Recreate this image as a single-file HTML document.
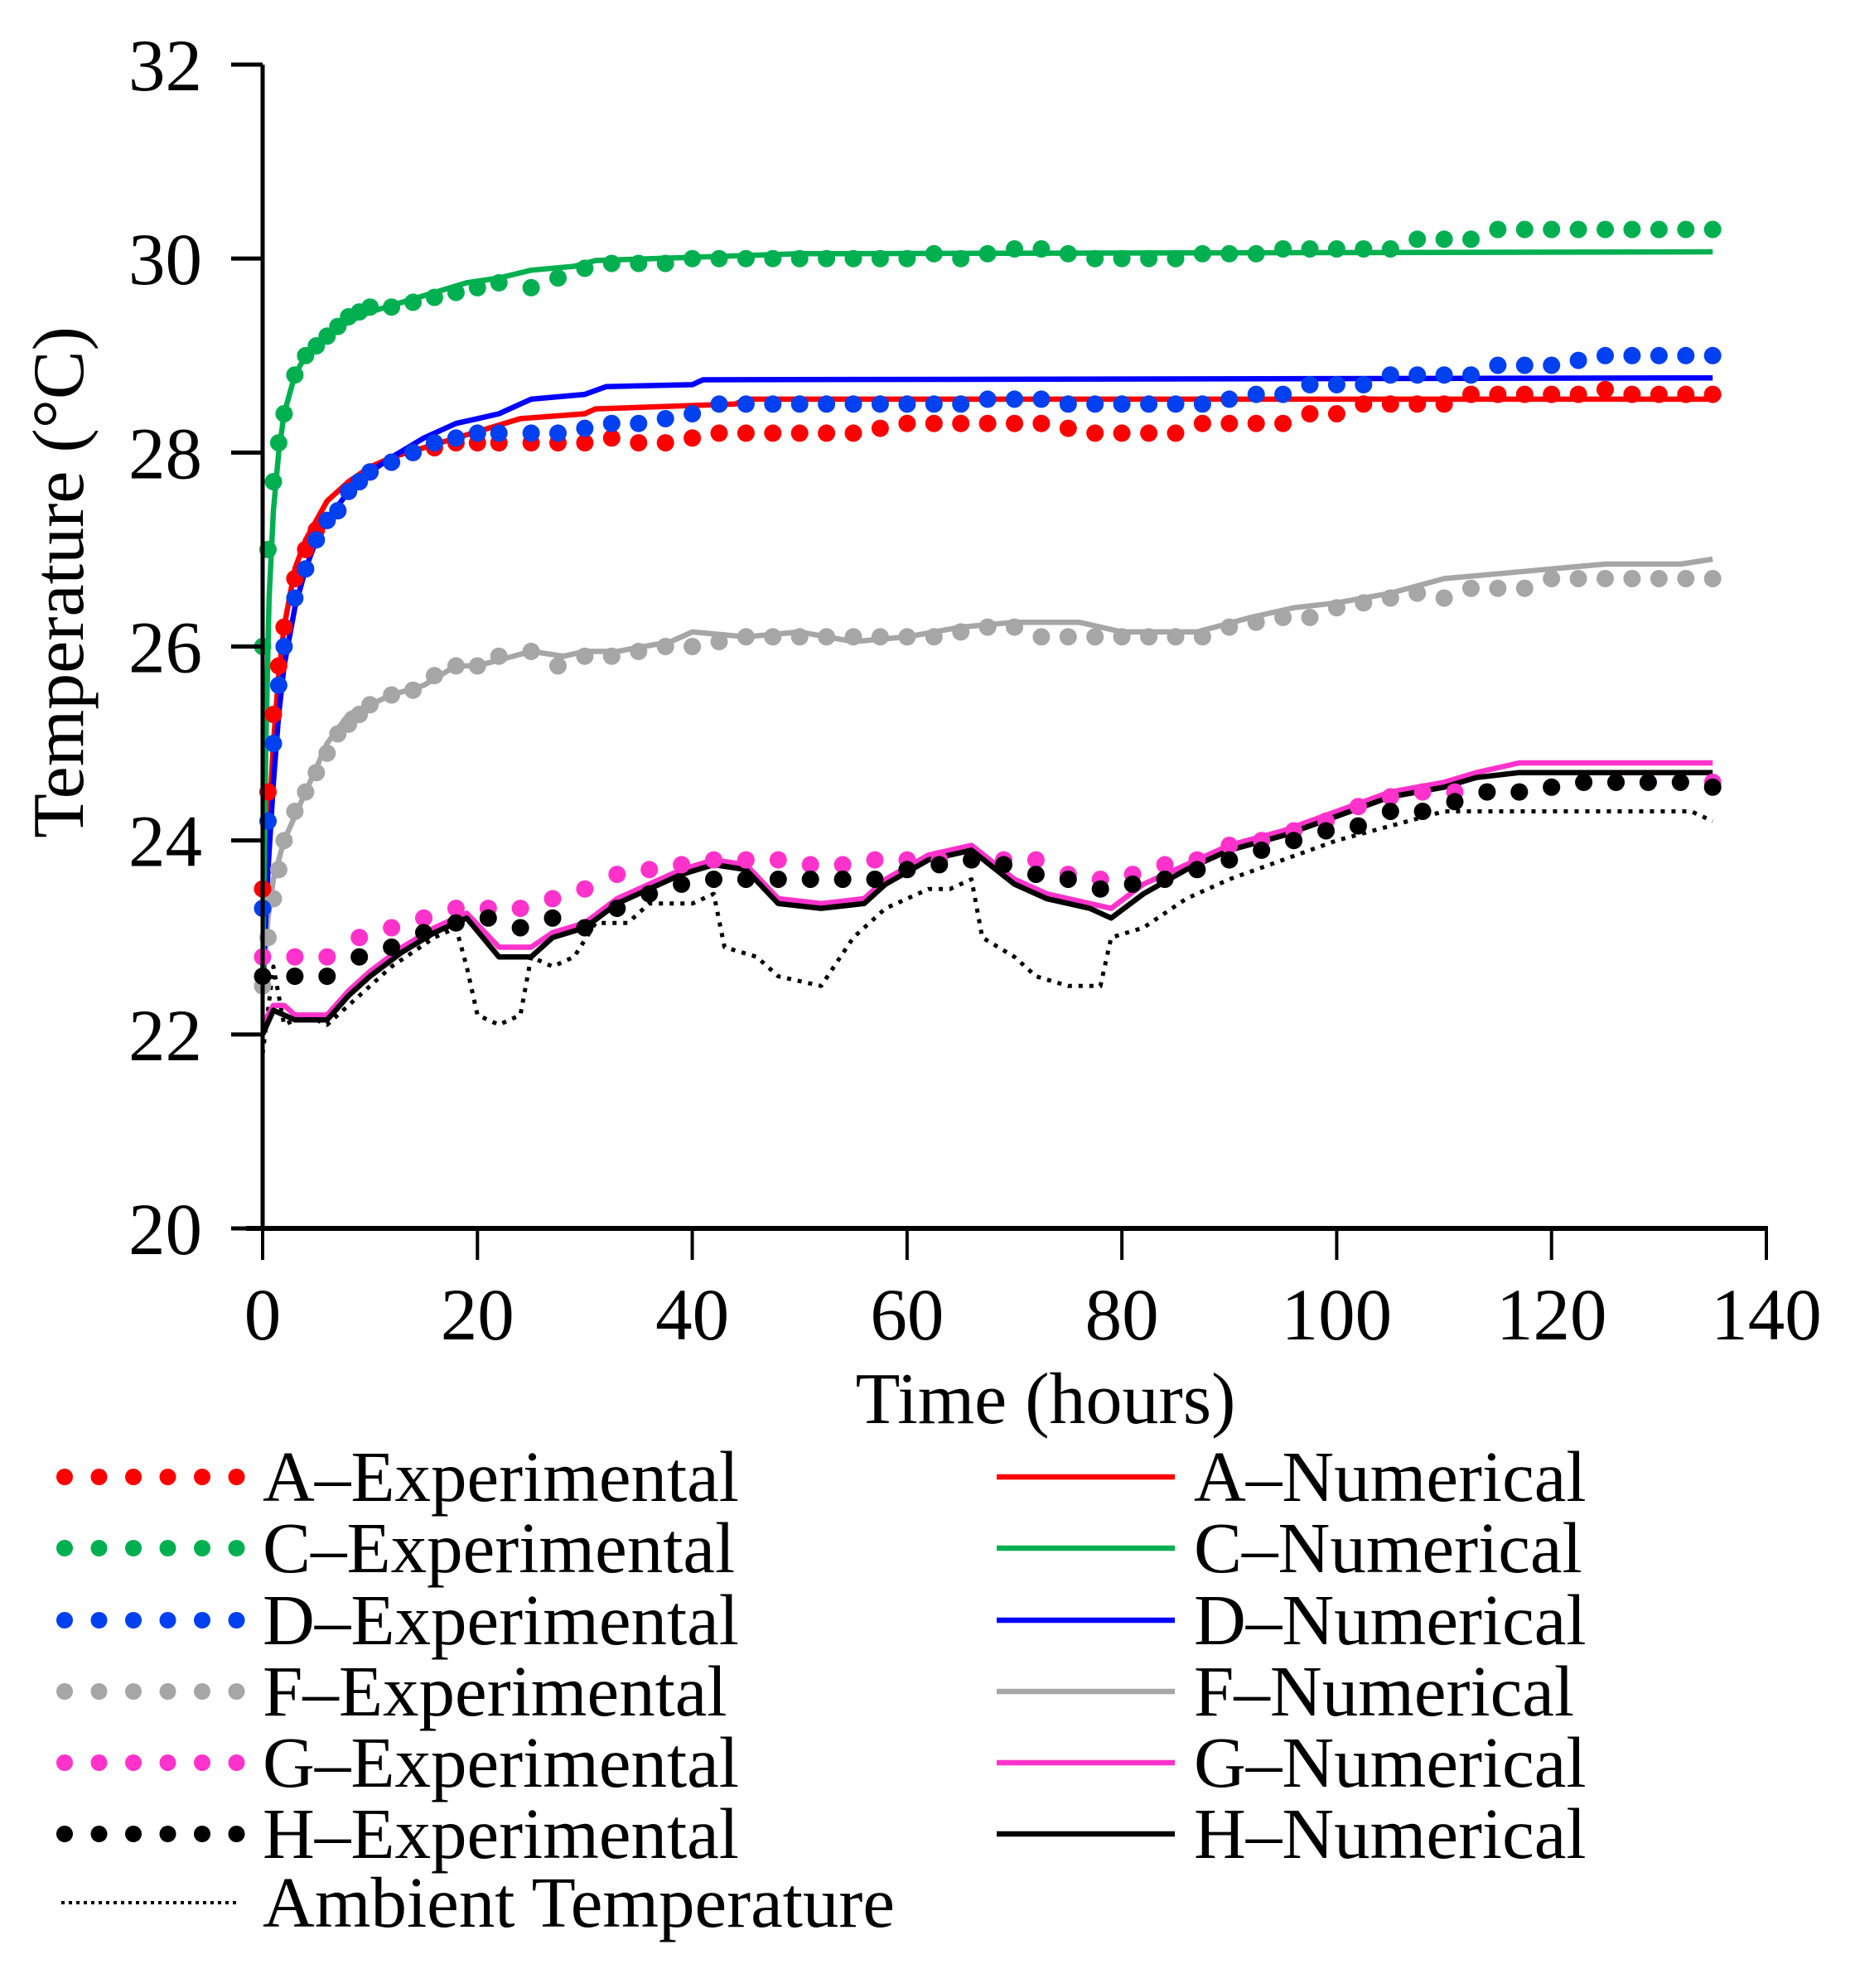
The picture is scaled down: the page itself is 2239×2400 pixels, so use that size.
<!DOCTYPE html>
<html><head><meta charset="utf-8"><style>
html,body{margin:0;padding:0;background:#fff;}
svg{display:block;font-family:"Liberation Serif",serif;}
</style></head><body>
<svg id="chart" width="2239" height="2400" viewBox="0 0 2239 2400">
<g id="plot"></g>
<g id="axes"></g>
<g id="legend"></g>
</svg>
<script>
const xTicks=[0,20,40,60,80,100,120,140];
const yTicks=[20,22,24,26,28,30,32];
const dotT=[0,0.5,1,1.5,2,3,4,5,6,7,8,9,10,12,14,16,18,20,22,25,27.5,30,32.5,35,37.5,40,42.5,45,47.5,50,52.5,55,57.5,60,62.5,65,67.5,70,72.5,75,77.5,80,82.5,85,87.5,90,92.5,95,97.5,100,102.5,105,107.5,110,112.5,115,117.5,120,122.5,125,127.5,130,132.5,135];
const aExp=[23.5,24.5,25.3,25.8,26.2,26.7,27.0,27.2,27.3,27.4,27.6,27.7,27.8,27.9,28.0,28.05,28.1,28.1,28.1,28.1,28.1,28.1,28.15,28.1,28.1,28.15,28.2,28.2,28.2,28.2,28.2,28.2,28.25,28.3,28.3,28.3,28.3,28.3,28.3,28.25,28.2,28.2,28.2,28.2,28.3,28.3,28.3,28.3,28.4,28.4,28.5,28.5,28.5,28.5,28.6,28.6,28.6,28.6,28.6,28.65,28.6,28.6,28.6,28.6];
const cExp=[26.0,27.0,27.7,28.1,28.4,28.8,29.0,29.1,29.2,29.3,29.4,29.45,29.5,29.5,29.55,29.6,29.65,29.7,29.75,29.7,29.8,29.9,29.95,29.95,29.95,30.0,30.0,30.0,30.0,30.0,30.0,30.0,30.0,30.0,30.05,30.0,30.05,30.1,30.1,30.05,30.0,30.0,30.0,30.0,30.05,30.05,30.05,30.1,30.1,30.1,30.1,30.1,30.2,30.2,30.2,30.3,30.3,30.3,30.3,30.3,30.3,30.3,30.3,30.3];
const dExp=[23.3,24.2,25.0,25.6,26.0,26.5,26.8,27.1,27.3,27.4,27.6,27.7,27.8,27.9,28.0,28.1,28.15,28.2,28.2,28.2,28.2,28.25,28.3,28.3,28.35,28.4,28.5,28.5,28.5,28.5,28.5,28.5,28.5,28.5,28.5,28.5,28.55,28.55,28.55,28.5,28.5,28.5,28.5,28.5,28.5,28.55,28.6,28.6,28.7,28.7,28.7,28.8,28.8,28.8,28.8,28.9,28.9,28.9,28.95,29.0,29.0,29.0,29.0,29.0];
const fExp=[22.5,23.0,23.4,23.7,24.0,24.3,24.5,24.7,24.9,25.1,25.2,25.3,25.4,25.5,25.55,25.7,25.8,25.8,25.9,25.95,25.8,25.9,25.9,25.95,26.0,26.0,26.05,26.1,26.1,26.1,26.1,26.1,26.1,26.1,26.1,26.15,26.2,26.2,26.1,26.1,26.1,26.1,26.1,26.1,26.1,26.2,26.25,26.3,26.3,26.4,26.45,26.5,26.55,26.5,26.6,26.6,26.6,26.7,26.7,26.7,26.7,26.7,26.7,26.7];
const ghT=[0,3,6,9,12,15,18,21,24,27,30,33,36,39,42,45,48,51,54,57,60,63,66,69,72,75,78,81,84,87,90,93,96,99,102,105,108,111,114,117,120,123,126,129,132,135];
const gExp=[22.8,22.8,22.8,23.0,23.1,23.2,23.3,23.3,23.3,23.4,23.5,23.65,23.7,23.75,23.8,23.8,23.8,23.75,23.75,23.8,23.8,23.8,23.8,23.8,23.8,23.65,23.6,23.65,23.75,23.8,23.95,24.0,24.1,24.2,24.35,24.45,24.5,24.5,24.5,24.5,24.55,24.6,24.6,24.6,24.6,24.6];
const hExp=[22.6,22.6,22.6,22.8,22.9,23.05,23.15,23.2,23.1,23.2,23.1,23.3,23.45,23.55,23.6,23.6,23.6,23.6,23.6,23.6,23.7,23.75,23.8,23.75,23.65,23.6,23.5,23.55,23.6,23.7,23.8,23.9,24.0,24.1,24.15,24.3,24.3,24.4,24.5,24.5,24.55,24.6,24.6,24.6,24.6,24.55];
const aNumT=[0,0.5,1,1.5,2,3,4,5,6,8,10,12,15,18,21,24,30,31,44,45,135];
const aNum=[22.5,24,25,25.7,26.2,26.8,27.1,27.3,27.5,27.7,27.85,27.95,28.05,28.15,28.25,28.35,28.4,28.45,28.5,28.55,28.55];
const cNumT=[0,0.3,0.6,1,1.5,2,3,4,6,8,10,13,16,19,22,25,29,31,50,135];
const cNum=[22.5,25,26.5,27.4,28,28.4,28.8,29.0,29.2,29.35,29.45,29.55,29.65,29.75,29.8,29.88,29.92,29.98,30.05,30.07];
const dNumT=[0,0.5,1,1.5,2,3,4,5,6,8,10,12,15,18,20,22,25,30,32,40,41,135];
const dNum=[22.5,23.7,24.6,25.3,25.8,26.4,26.8,27.1,27.3,27.6,27.8,27.95,28.15,28.3,28.35,28.4,28.55,28.6,28.68,28.7,28.75,28.77];
const fNumT=[0,0.5,1,2,4,6,8,10,12,15,18,20,25,28,30,33,38,40,45,50,55,60,65,70,76,80,87,92,96,100,105,110,115,120,125,132,135];
const fNum=[22.5,23.2,23.6,24.0,24.5,25.0,25.3,25.4,25.5,25.6,25.8,25.8,25.95,25.9,25.95,25.95,26.05,26.15,26.1,26.15,26.05,26.1,26.2,26.25,26.25,26.15,26.15,26.3,26.4,26.45,26.55,26.7,26.75,26.8,26.85,26.85,26.9];
const gNumT=[0,1,2,3,6,8,10,13,16,19,22,25,27,30,33,36,39,42,45,48,52,56,58,62,66,70,73,77,79,82,86,90,95,100,105,110,113,117,135];
const gNum=[22.1,22.3,22.3,22.2,22.2,22.45,22.65,22.9,23.1,23.25,22.9,22.9,23.05,23.15,23.4,23.55,23.7,23.8,23.75,23.4,23.35,23.4,23.6,23.85,23.95,23.6,23.45,23.35,23.3,23.55,23.75,23.95,24.1,24.3,24.5,24.6,24.7,24.8,24.8];
const hNumT=[0,1,2,3,6,8,10,13,16,19,22,25,27,30,33,36,39,42,45,48,52,56,58,62,66,70,73,77,79,82,86,90,95,100,105,110,113,117,135];
const hNum=[22.0,22.25,22.2,22.15,22.15,22.4,22.6,22.85,23.05,23.2,22.8,22.8,23.0,23.1,23.35,23.5,23.65,23.75,23.7,23.35,23.3,23.35,23.55,23.8,23.9,23.55,23.4,23.3,23.2,23.45,23.7,23.9,24.05,24.25,24.45,24.55,24.65,24.7,24.7];
const ambT=[0,1,2,4,6,8,12,16,18,19,20,22,24,25,27,29,31,34,36,40,42,43,46,48,52,55,58,62,64,66,67,70,72,75,78,79,82,86,90,95,100,105,110,120,133,135];
const amb=[21.8,22.7,22.1,22.2,22.1,22.3,22.7,23.0,23.1,22.7,22.2,22.1,22.2,22.8,22.7,22.8,23.15,23.15,23.35,23.35,23.45,22.9,22.8,22.6,22.5,23.0,23.3,23.5,23.5,23.6,23.0,22.8,22.6,22.5,22.5,23.0,23.1,23.4,23.6,23.8,24.0,24.15,24.3,24.3,24.3,24.2];

const X0=317,X1=2132,Y0=1483,Y1=78;
const xs=v=>X0+(v-0)/(140-0)*(X1-X0);
const ys=v=>Y0-(v-20)/(32-20)*(Y0-Y1);
const NS='http://www.w3.org/2000/svg';
function mk(tag,attrs,parent){const e=document.createElementNS(NS,tag);for(const k in attrs)e.setAttribute(k,attrs[k]);parent.appendChild(e);return e;}
const plot=document.getElementById('plot'),axes=document.getElementById('axes'),leg=document.getElementById('legend');

function line(T,V,color,name,w,dash){
  const d=T.map((t,i)=>(i?'L':'M')+xs(t).toFixed(1)+','+ys(V[i]).toFixed(1)).join('');
  const p=mk('path',{d:d,fill:'none',stroke:color,'stroke-width':w,'stroke-linejoin':'round'},plot);
  if(dash)p.setAttribute('stroke-dasharray',dash);
  
  
}
function dots(T,V,color,name){
  const g=mk('g',{fill:color},plot);
  
  
  T.forEach((t,i)=>{const c=mk('circle',{cx:xs(t).toFixed(1),cy:ys(V[i]).toFixed(1),r:10.5},g);
    
    });
}
line(ambT,amb,'#000','ambient-temperature-line',5,'5 8');
line(fNumT,fNum,'#a6a6a6','f-numerical-line',6.5);
line(aNumT,aNum,'#ff0000','a-numerical-line',6.5);
line(dNumT,dNum,'#0000ff','d-numerical-line',6.5);
line(cNumT,cNum,'#00b050','c-numerical-line',6.5);
line(gNumT,gNum,'#ff33cc','g-numerical-line',6.5);
line(hNumT,hNum,'#000000','h-numerical-line',6.5);
dots(dotT,fExp,'#a6a6a6','f-experimental-points');
dots(ghT,gExp,'#ff33cc','g-experimental-points');
dots(ghT,hExp,'#000000','h-experimental-points');
dots(dotT,aExp,'#ff0000','a-experimental-points');
dots(dotT,dExp,'#0040f0','d-experimental-points');
dots(dotT,cExp,'#00b050','c-experimental-points');

let e=mk('line',{x1:X0,y1:Y1,x2:X0,y2:Y0+2,stroke:'#000','stroke-width':5},axes);

e=mk('line',{x1:X0-20,y1:Y0,x2:X1+2,y2:Y0,stroke:'#000','stroke-width':6},axes);

yTicks.forEach(v=>{
  const t=mk('line',{x1:X0-38,y1:ys(v),x2:X0,y2:ys(v),stroke:'#000','stroke-width':5},axes);
  
  const l=mk('text',{x:X0-73,y:ys(v)+31,'text-anchor':'end','font-size':89},axes);l.textContent=v;
  
});
xTicks.forEach(v=>{
  const t=mk('line',{x1:xs(v),y1:Y0,x2:xs(v),y2:Y0+38,stroke:'#000','stroke-width':4},axes);
  
  const l=mk('text',{x:xs(v),y:Y0+134,'text-anchor':'middle','font-size':89},axes);l.textContent=v;
  
});
e=mk('text',{x:1262,y:1718,'text-anchor':'middle','font-size':88},axes);e.textContent='Time (hours)';

e=mk('text',{x:0,y:0,'text-anchor':'middle','font-size':88,transform:'translate(100,703) rotate(-90)'},axes);e.textContent='Temperature (°C)';


const legRows=[['A','#ff0000'],['C','#00b050'],['D','#0040f0'],['F','#a6a6a6'],['G','#ff33cc'],['H','#000000']];
const legNumColors=['#ff0000','#00b050','#0000ff','#a6a6a6','#ff33cc','#000000'];
const rowY=[1783,1869,1956,2042,2128,2214,2297];
legRows.forEach((r,i)=>{
  const y=rowY[i];
  const g=mk('g',{},leg);
  
  
  for(let k=0;k<6;k++)mk('circle',{cx:78+k*41.5,cy:y,r:10,fill:r[1]},g);
  const t=mk('text',{x:317,y:y+29,'font-size':87},g);t.textContent=r[0]+'–Experimental';
  const g2=mk('g',{},leg);
  
  
  mk('line',{x1:1203,y1:y,x2:1418,y2:y,stroke:legNumColors[i],'stroke-width':6.5},g2);
  const t2=mk('text',{x:1441,y:y+29,'font-size':87},g2);t2.textContent=r[0]+'–Numerical';
});
const ga=mk('g',{},leg);


mk('line',{x1:74,y1:rowY[6],x2:288,y2:rowY[6],stroke:'#000','stroke-width':4,'stroke-dasharray':'4 5'},ga);
const ta=mk('text',{x:317,y:rowY[6]+29,'font-size':87},ga);ta.textContent='Ambient Temperature';
</script>
</body></html>
